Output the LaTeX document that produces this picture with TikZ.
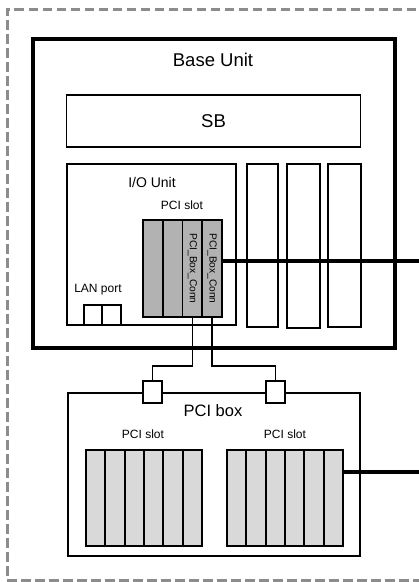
\documentclass[tikz,border=0pt]{standalone}
\usepackage{fontspec}
\setmainfont{Liberation Sans}
\usetikzlibrary{positioning}
\definecolor{slotdark}{gray}{0.70}
\definecolor{slotlight}{gray}{0.85}
\definecolor{framegray}{gray}{0.55}

\begin{document}
\begin{tikzpicture}[x=1pt,y=-1pt,
  box/.style={draw,line width=1.7pt,inner sep=0pt},
  iocardbox/.style={box,fill=slotdark,minimum width=19.75pt,minimum height=97pt},
  pcicardbox/.style={box,fill=slotlight,minimum width=19.33pt,minimum height=96pt},
  wire/.style={line width=1.7pt},
  bus/.style={line width=4pt},
  big/.style={font=\fontsize{18.5}{20}\selectfont},
  small/.style={font=\fontsize{12}{13}\selectfont}]
  \useasboundingbox (0,0) rectangle (419,582);

  % outer frame
  \draw[framegray,line width=3pt,dash pattern=on 9.5pt off 4.5pt]
    (430,9) -- (7,9) -- (7,580) -- (430,580);

  % base unit
  \node[box,line width=3.5pt,minimum width=362pt,minimum height=309pt] (base) at (214,193.5) {};
  \node[big] (basetitle) at (213,60) {Base Unit};
  \node[box,minimum width=294pt,minimum height=52pt] (sb) at (213.5,121) {};
  \node[big] (sbtitle) at (213.5,121.5) {SB};

  % I/O unit
  \node[box,minimum width=169pt,minimum height=161pt] (io) at (151.5,244.5) {};
  \node[font=\fontsize{14}{15}\selectfont] (iotitle) at (152,182) {I/O Unit};
  \node[small] (ioslot) at (182,205) {PCI slot};
  \foreach \i in {1,...,4}
    \node[iocardbox] (iocard\i) at ({143+19.75*(\i-0.5)},268.5) {};
  \node[rotate=-90,font=\fontsize{10.2}{11}\selectfont] (conntext3) at (iocard3) {PCI\_Box\_Conn};
  \node[rotate=-90,font=\fontsize{10.2}{11}\selectfont] (conntext4) at (iocard4) {PCI\_Box\_Conn};

  \node[small] (lantitle) at (98,290) {LAN port};
  \node[box,minimum width=18pt,minimum height=20pt] (lan1) at (93,315) {};
  \node[box,minimum width=19pt,minimum height=20pt] (lan2) at (111.5,315) {};

  % expansion slots
  \node[box,minimum width=31pt,minimum height=163pt] (exp1) at (262.5,245.5) {};
  \node[box,minimum width=33pt,minimum height=164pt] (exp2) at (303.5,246) {};
  \node[box,minimum width=33pt,minimum height=163pt] (exp3) at (344.5,245.5) {};

  % PCI box
  \node[box,minimum width=292pt,minimum height=163pt] (pcibox) at (214,474.5) {};
  \node[font=\fontsize{16.5}{18}\selectfont] (pcititle) at (213,411) {PCI box};
  \node[small] (lslot) at (143,434) {PCI slot};
  \node[small] (rslot) at (285,434) {PCI slot};
  \foreach \i in {1,...,6} {
    \node[pcicardbox] (lcard\i) at ({86+19.33*(\i-0.5)},498) {};
    \node[pcicardbox] (rcard\i) at ({227+19.33*(\i-0.5)},498) {};
  }

  % connectors
  \node[box,fill=white,minimum width=19pt,minimum height=22pt] (conn1) at (152.5,392) {};
  \node[box,fill=white,minimum width=19pt,minimum height=22pt] (conn2) at (275.5,392) {};
  \draw[wire] (iocard3.south) -- ++(0,48) -| (conn1.north);
  \draw[wire] (iocard4.south) -- ++(0,48) -| (conn2.north);

  % buses
  \coordinate (bus1) at (425,261);
  \coordinate (bus2) at (425,472);
  \draw[bus] (bus1 -| iocard4.east) -- (bus1);
  \draw[bus] (bus2 -| rcard6.east) -- (bus2);
\end{tikzpicture}
\end{document}
